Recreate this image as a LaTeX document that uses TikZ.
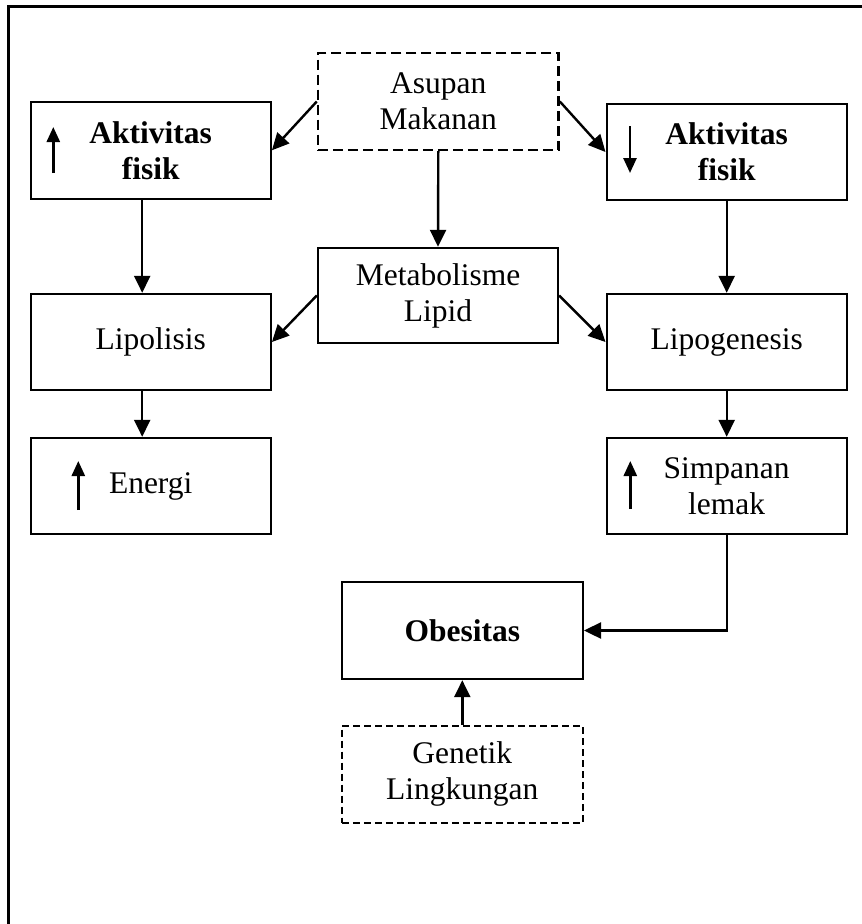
\documentclass[tikz,border=0pt]{standalone}
\usepackage{fontspec}
\setmainfont{Liberation Serif}
\usetikzlibrary{arrows.meta}
\begin{document}
\begin{tikzpicture}[x=1pt,y=-1pt,
  box/.style={draw,line width=2.4pt,minimum width=240pt,minimum height=96pt,align=center,inner sep=0pt,
    font=\fontsize{31.5}{36}\selectfont},
  dbox/.style={box,dash pattern=on 10pt off 5pt},
  conn/.style={line width=2.4pt,-{Triangle[length=17pt,width=16pt]}},
  mini/.style={line width=2.6pt,-{Triangle[length=15pt,width=13pt]}}]
\useasboundingbox (0,0) rectangle (862,924);
\draw[line width=2.6pt] (8.5,924) -- (8.5,6.7) -- (862,6.7);

\node[dbox,minimum width=240.7pt,minimum height=97pt] (asu) at (438.3,101.5) {Asupan\\Makanan};
\node[box,minimum height=97pt,font=\fontsize{31.5}{36}\selectfont\bfseries] (akl) at (150.7,150.3) {Aktivitas\\fisik};
\node[box,font=\fontsize{31.5}{36}\selectfont\bfseries] (akr) at (726.7,152) {Aktivitas\\fisik};
\node[box,minimum height=95pt] (met) at (438,295.5) {Metabolisme\\Lipid};
\node[box] (lpl) at (150.7,342) {Lipolisis};
\node[box] (lpg) at (726.7,342) {Lipogenesis};
\node[box] (ene) at (150.7,486) {Energi};
\node[box] (sim) at (726.7,486) {Simpanan\\lemak};
\node[box,minimum width=241pt,minimum height=97pt,font=\fontsize{31.5}{36}\selectfont\bfseries] (obe) at (462.3,630.5) {Obesitas};
\node[box,minimum width=241pt,minimum height=97pt,dash pattern=on 7pt off 4pt] (gen) at (462.3,774.2) {Genetik\\Lingkungan};

\draw[conn] (asu.west) -- (akl.east);
\draw[conn] (asu.east) -- (akr.west);
\draw[conn] (asu.south) -- (met.north);
\draw[conn] ([xshift=-8.5pt]akl.south) -- ([xshift=-8.5pt]lpl.north);
\draw[conn] (akr.south) -- (lpg.north);
\draw[conn] (met.west) -- (lpl.east);
\draw[conn] (met.east) -- (lpg.west);
\draw[conn] ([xshift=-8.5pt]lpl.south) -- ([xshift=-8.5pt]ene.north);
\draw[conn] (lpg.south) -- (sim.north);
\draw[conn] (sim.south) |- (obe.east);
\draw[conn] (gen.north) -- (obe.south);

\draw[mini] (53.3,173) -- (53.3,127);
\draw[mini] (630,126) -- (630,173);
\draw[mini] (78.3,510) -- (78.3,461);
\draw[mini] (630.3,509) -- (630.3,461);
\end{tikzpicture}
\end{document}
